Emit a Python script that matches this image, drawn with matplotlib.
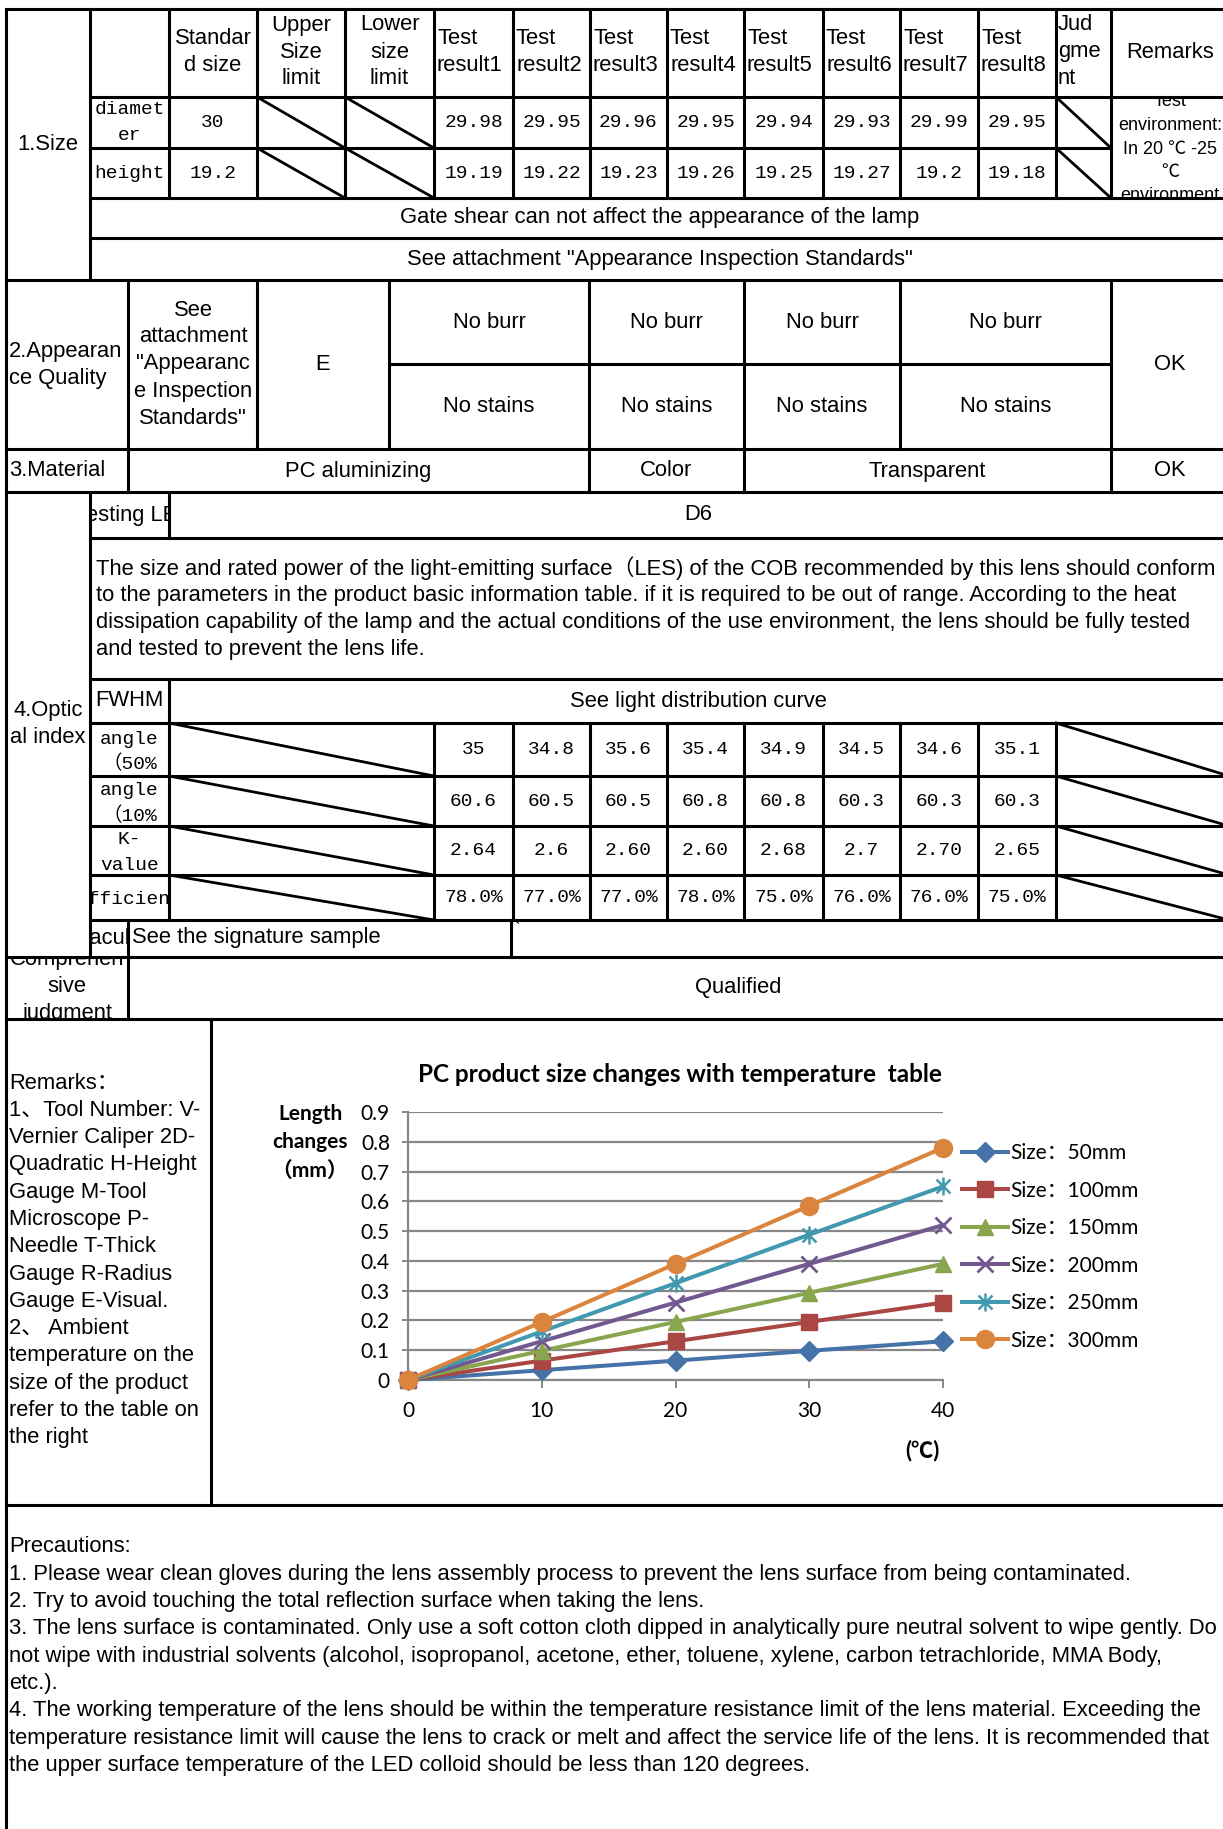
import numpy as np
import matplotlib
matplotlib.use("Agg")
import matplotlib.pyplot as plt
from matplotlib.path import Path
from matplotlib.transforms import Bbox, TransformedBbox

W, H = 1223, 1829
SANS = ["Liberation Sans", "Noto Sans CJK SC", "DejaVu Sans"]
MONO = ["Liberation Mono", "Noto Sans CJK SC", "DejaVu Sans"]
CHART = ["Lato", "Noto Sans CJK SC", "DejaVu Sans"]
FS = 15.8

# ---- table data ----
head_cols = ["Standar\nd size", "Upper\nSize\nlimit", "Lower\nsize\nlimit"]
test_cols = ["Test\nresult1", "Test\nresult2", "Test\nresult3", "Test\nresult4",
             "Test\nresult5", "Test\nresult6", "Test\nresult7", "Test\nresult8"]
size_rows = ["diamet\ner", "height"]
std_size = ["30", "19.2"]
diameter = ["29.98", "29.95", "29.96", "29.95", "29.94", "29.93", "29.99", "29.95"]
height = ["19.19", "19.22", "19.23", "19.26", "19.25", "19.27", "19.2", "19.18"]

optic_rows = ["angle\n（50%", "angle\n（10%", "K-\nvalue", "Efficiency"]
angle50 = ["35", "34.8", "35.6", "35.4", "34.9", "34.5", "34.6", "35.1"]
angle10 = ["60.6", "60.5", "60.5", "60.8", "60.8", "60.3", "60.3", "60.3"]
kvalue = ["2.64", "2.6", "2.60", "2.60", "2.68", "2.7", "2.70", "2.65"]
efficiency = ["78.0%", "77.0%", "77.0%", "78.0%", "75.0%", "76.0%", "76.0%", "75.0%"]

appearance_top = ["No burr", "No burr", "No burr", "No burr"]
appearance_bot = ["No stains", "No stains", "No stains", "No stains"]

paragraph = [
    "The size and rated power of the light-emitting surface（LES) of the COB recommended by this lens should conform",
    "to the parameters in the product basic information table. if it is required to be out of range. According to the heat",
    "dissipation capability of the lamp and the actual conditions of the use environment, the lens should be fully tested",
    "and tested to prevent the lens life.",
]
remarks = ["Remarks：", "1、Tool Number: V-", "Vernier Caliper 2D-", "Quadratic H-Height",
           "Gauge M-Tool", "Microscope P-", "Needle T-Thick", "Gauge R-Radius",
           "Gauge E-Visual.", "2、 Ambient", "temperature on the", "size of the product",
           "refer to the table on", "the right"]
precautions = [
    "Precautions:",
    "1. Please wear clean gloves during the lens assembly process to prevent the lens surface from being contaminated.",
    "2. Try to avoid touching the total reflection surface when taking the lens.",
    "3. The lens surface is contaminated. Only use a soft cotton cloth dipped in analytically pure neutral solvent to wipe gently. Do",
    "not wipe with industrial solvents (alcohol, isopropanol, acetone, ether, toluene, xylene, carbon tetrachloride, MMA Body,",
    "etc.).",
    "4. The working temperature of the lens should be within the temperature resistance limit of the lens material. Exceeding the",
    "temperature resistance limit will cause the lens to crack or melt and affect the service life of the lens. It is recommended that",
    "the upper surface temperature of the LED colloid should be less than 120 degrees.",
]

# ---- chart data ----
temps = [0, 10, 20, 30, 40]
size_50 = [0, 0.033, 0.065, 0.098, 0.13]
size_100 = [0, 0.065, 0.13, 0.195, 0.26]
size_150 = [0, 0.098, 0.195, 0.293, 0.39]
size_200 = [0, 0.13, 0.26, 0.39, 0.52]
size_250 = [0, 0.163, 0.325, 0.488, 0.65]
size_300 = [0, 0.195, 0.39, 0.585, 0.78]
series_names = ["Size：50mm", "Size：100mm", "Size：150mm", "Size：200mm", "Size：250mm", "Size：300mm"]

fig = plt.figure(figsize=(W / 100, H / 100), dpi=100)
tab = fig.add_axes([0, 0, 1, 1])
tab.set_xlim(0, W)
tab.set_ylim(0, H)
tab.axis("off")


def fy(y):
    return H - y


def txt(x, y, s, size=FS, ha="center", fam=SANS, clip=None, lh=None, **kw):
    lines = s.split("\n")
    if lh is None:
        lh = size * 1.389 * 1.22
    y0 = y - lh * (len(lines) - 1) / 2
    for i, line in enumerate(lines):
        t = tab.text(x, fy(y0 + i * lh), line, ha=ha, va="center", fontsize=size,
                     family=fam, **kw)
        if clip is not None:
            x0, ya, x1, yb = clip
            t.set_clip_box(TransformedBbox(Bbox.from_extents(x0, fy(yb), x1, fy(ya)),
                                           tab.transData))
            t.set_clip_on(True)


LW = 2.2
R = 1232


def hl(y, x0, x1):
    tab.plot([x0, x1], [fy(y), fy(y)], color="black", lw=LW, solid_capstyle="projecting")


def vl(x, y0, y1):
    tab.plot([x, x], [fy(y0), fy(y1)], color="black", lw=LW, solid_capstyle="projecting")


def diag(x0, y0, x1, y1):
    tab.plot([x0, x1], [fy(y0), fy(y1)], color="black", lw=2.0)


# ---- grid lines ----
for y, x0 in [(9, 6), (97, 90), (198, 90), (238, 90), (280, 6), (449, 6), (492, 6),
              (538, 90), (679, 90), (723, 90), (776, 90), (826, 90), (875, 90), (920, 90),
              (957, 6), (1019, 6), (1505, 6)]:
    hl(y, x0, R)
hl(148, 90, 1111)
hl(364, 389, 1111)

vl(6, 9, H + 5)
vl(90, 9, 280)
vl(90, 492, 957)
test_x = [434, 513, 590, 667, 744, 823, 900, 978, 1056]
for x in [169, 257, 345] + test_x + [1111]:
    vl(x, 9, 198)
vl(169, 492, 538)
vl(169, 679, 920)
for x in test_x:
    vl(x, 723, 920)
vl(128, 280, 492)
vl(257, 280, 449)
vl(389, 280, 449)
vl(589, 280, 492)
vl(744, 280, 492)
vl(900, 280, 449)
vl(1111, 280, 492)
vl(128, 920, 1019)
vl(511, 920, 957)
vl(211, 1019, 1505)

# diagonals
for (y0, y1) in [(97, 148), (148, 198)]:
    diag(257, y0, 345, y1)
    diag(345, y0, 434, y1)
    diag(1056, y0, 1111, y1)
for (y0, y1) in [(723, 776), (776, 826), (826, 875), (875, 920)]:
    diag(169, y0, 434, y1)
    diag(1056, y0, 1229, y1)

# ---- section 1: size ----
txt(48, 144, "1.Size")
hx = [(169, 257), (257, 345), (345, 434)]
for (a, b), s in zip(hx, head_cols):
    txt((a + b) / 2, 52, s, lh=27)
for i, s in enumerate(test_cols):
    txt(test_x[i] + 3, 52, s, ha="left", lh=27)
txt(1058, 52, "Jud\ngme\nnt", ha="left", lh=27)
txt(1170, 52, "Remarks")

row_y = [122.5, 173]
for j, lab in enumerate(size_rows):
    txt(129.5, row_y[j], lab, size=14, fam=MONO, lh=26, clip=(90, [97, 148][j], 169, [148, 198][j]))
    txt(213, row_y[j], std_size[j], size=14, fam=MONO)
for i in range(8):
    cx = (test_x[i] + test_x[i + 1]) / 2
    txt(cx, row_y[0], diameter[i], size=14, fam=MONO)
    txt(cx, row_y[1], height[i], size=14, fam=MONO)
txt(1170, 149, "Test\nenvironment:\nIn 20 ℃ -25\n℃\nenvironment", size=13, lh=23.5,
    clip=(1111, 97, 1229, 198))
txt(660, 218, "Gate shear can not affect the appearance of the lamp")
txt(660, 259, 'See attachment "Appearance Inspection Standards"')

# ---- section 2: appearance ----
txt(9, 365, "2.Appearan\nce Quality", ha="left", lh=27)
txt(193, 364, 'See\nattachment\n"Appearanc\ne Inspection\nStandards"', lh=27)
txt(323, 364, "E")
for (a, b), s1, s2 in zip([(389, 589), (589, 744), (744, 900), (900, 1111)],
                          appearance_top, appearance_bot):
    txt((a + b) / 2, 322, s1)
    txt((a + b) / 2, 407, s2)
txt(1170, 364, "OK")

# ---- section 3: material ----
txt(9, 471, "3.Material", ha="left")
txt(358, 471, "PC aluminizing")
txt(666, 471, "Color")
txt(927, 471, "Transparent")
txt(1170, 471, "OK")

# ---- section 4: optical ----
txt(48, 724, "4.Optic\nal index", lh=27)
txt(134, 515, "Testing LED", clip=(90, 492, 169, 538))
txt(698, 515, "D6")
for k, line in enumerate(paragraph):
    txt(96, 568 + k * 27.3, line, ha="left")
txt(129.5, 701, "FWHM", clip=(90, 679, 169, 723))
txt(698, 701, "See light distribution curve")
opt_edges = [723, 776, 826, 875, 920]
for j, (lab, vals) in enumerate(zip(optic_rows, [angle50, angle10, kvalue, efficiency])):
    a, b = opt_edges[j], opt_edges[j + 1]
    lx = 135 if j == 3 else 129.5
    txt(lx, (a + b) / 2 + 2, lab, size=14, fam=MONO, lh=25, clip=(90, a, 169, b))
    for i in range(8):
        cx = (test_x[i] + test_x[i + 1]) / 2
        txt(cx, (a + b) / 2, vals[i], size=14, fam=MONO)
txt(109, 938, "Facula", clip=(90, 920, 128, 957))
txt(132, 938, "See the signature sample", ha="left")
txt(517, 929, "`", size=12)

# ---- section 5 ----
txt(67, 987, "Comprehen\nsive\njudgment", lh=27, clip=(6, 957, 128, 1019))
txt(738, 988, "Qualified")

# ---- section 6: remarks + chart ----
for k, line in enumerate(remarks):
    txt(9, 1083 + k * 27.3, line, ha="left")

ax = fig.add_axes([408 / W, 1 - 1380 / H, (943 - 408) / W, (1380 - 1112) / H])
star = Path([(-1, -1), (1, 1), (-1, 1), (1, -1), (0, -1.3), (0, 1.3)],
            [Path.MOVETO, Path.LINETO, Path.MOVETO, Path.LINETO, Path.MOVETO, Path.LINETO])
styles = [("#4572A7", "D", 10, 1), ("#AA4643", "s", 11, 1), ("#89A54E", "^", 12, 1),
          ("#71588F", "x", 12, 2), ("#4198AF", star, 13, 1.8), ("#DB843D", "o", 13, 1)]
handles = []
for vals, name, (c, m, ms, mew) in zip([size_50, size_100, size_150, size_200, size_250, size_300],
                                        series_names, styles):
    h, = ax.plot(temps, vals, color=c, marker=m, ms=ms, mew=mew, mec=c, mfc=c,
                 lw=2.9, label=name, clip_on=False, zorder=3)
    handles.append(h)
ax.set_xlim(0, 40)
ax.set_ylim(0, 0.9)
ax.set_xticks(temps)
ax.set_yticks(np.round(np.arange(0, 0.95, 0.1), 1))
ax.set_yticklabels(["0"] + [f"{v:.1f}" for v in np.arange(0.1, 0.95, 0.1)])
ax.grid(axis="y", color="#878787", lw=1.6)
ax.grid(axis="x", visible=False)
ax.set_axisbelow(True)
for s in ["top", "right"]:
    ax.spines[s].set_visible(False)
for s in ["left", "bottom"]:
    ax.spines[s].set_color("#878787")
    ax.spines[s].set_linewidth(1.6)
ax.tick_params(axis="x", direction="out", length=6, width=1.4, color="#878787", pad=9,
               labelsize=15)
ax.tick_params(axis="y", direction="out", length=4, width=1.4, color="#878787", pad=9,
               labelsize=15)
for lab in ax.get_xticklabels() + ax.get_yticklabels():
    lab.set_family(CHART)
ax.set_facecolor("none")

leg = ax.legend(handles=handles, loc="upper left", bbox_to_anchor=(962 / W, 1 - 1143 / H),
                bbox_transform=fig.transFigure, frameon=False, borderpad=0, borderaxespad=0,
                handlelength=2.2, handletextpad=0.12, labelspacing=0.84,
                prop={"family": CHART, "size": 15})

txt(680, 1074, "PC product size changes with temperature  table", size=17.5, fam=CHART,
    weight="bold")
txt(310, 1142, "Length\nchanges\n（mm）", size=15, fam=CHART, weight="bold", lh=28.5)
txt(922, 1451, "(℃)", size=16, fam=CHART, weight="bold")

# ---- section 7: precautions ----
for k, line in enumerate(precautions):
    txt(9, 1547 + k * 27.3, line, ha="left")

fig.savefig("out.png", dpi=100, facecolor="white")
